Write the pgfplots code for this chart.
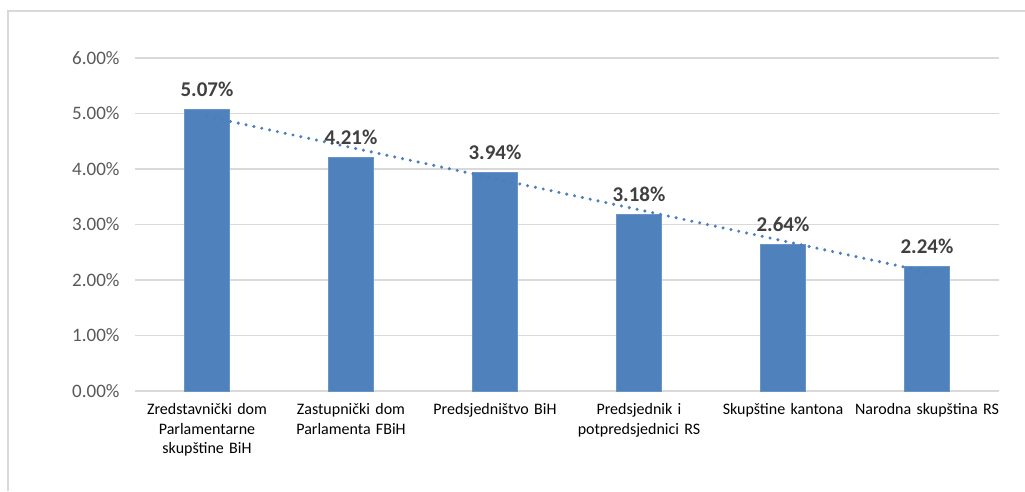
\documentclass[border=0pt]{standalone}
\usepackage{pgfplots}
\pgfplotsset{compat=1.18}
\usepackage{fontspec}
\setmainfont{Carlito}
\definecolor{barblue}{HTML}{4F81BD}
\definecolor{trendblue}{HTML}{4A7EC0}
\definecolor{gridgray}{HTML}{D9D9D9}
\definecolor{ticklab}{HTML}{595959}
\definecolor{datalab}{HTML}{404040}
\begin{document}
\begin{tikzpicture}[x=1pt,y=1pt]
\path[use as bounding box] (0,0) rectangle (1025,491);
\draw[gridgray, line width=1.5pt] (8,0) -- (8,480) -- (1025,480);
\begin{axis}[
  at={(135pt,100pt)}, anchor=south west,
  scale only axis, width=864pt, height=333pt,
  xmin=-0.5, xmax=5.5, ymin=0, ymax=6,
  axis line style={draw=none},
  ymajorgrids, grid style={gridgray, line width=1.2pt},
  major tick style={draw=none},
  ytick={0,1,2,3,4,5,6},
  yticklabels={0.00\%,1.00\%,2.00\%,3.00\%,4.00\%,5.00\%,6.00\%},
  yticklabel style={font=\fontsize{19}{22}\selectfont, text=ticklab, xshift=-12pt},
  xtick=data,
  xticklabels={{Zredstavnički dom\\Parlamentarne\\skupštine BiH},{Zastupnički dom\\Parlamenta FBiH},{Predsjedništvo BiH},{Predsjednik i\\potpredsjednici RS},{Skupštine kantona},{Narodna skupština RS}},
  xticklabel style={font=\fontsize{16}{19.5}\selectfont, text=black, align=center, text width=150pt, anchor=north, yshift=-9pt},
  clip=false,
]
\addplot[ybar, bar width=45pt, fill=barblue, draw=barblue!85!white,
  nodes near coords,
  nodes near coords style={font=\fontsize{21}{24}\selectfont\bfseries, text=datalab, yshift=9pt, anchor=south},
  point meta=explicit symbolic]
 coordinates {(0,5.07)[5.07\%] (1,4.21)[4.21\%] (2,3.94)[3.94\%] (3,3.18)[3.18\%] (4,2.64)[2.64\%] (5,2.24)[2.24\%]};
\addplot[trendblue, line width=3.4pt, line cap=round, dash pattern=on 0pt off 8pt, mark=none]
 coordinates {(0,4.948) (5,2.145)};
\end{axis}
\end{tikzpicture}
\end{document}
